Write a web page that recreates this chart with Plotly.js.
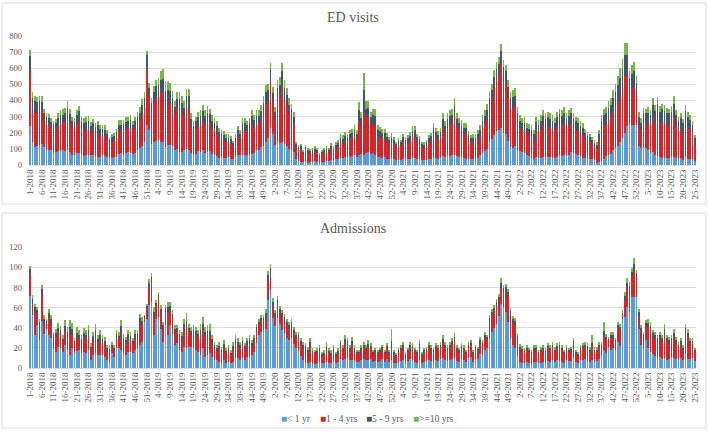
<!DOCTYPE html>
<html>
<head>
<meta charset="utf-8">
<script src="https://cdn.plot.ly/plotly-3.0.1.min.js"></script>
<style>
  html, body { margin: 0; padding: 0; background: #ffffff; }
  #chart { width: 709px; height: 433px; }
</style>
</head>
<body>
<div id="chart"></div>
<script>
// ---- Week categories (week-year), 1-2018 .. 25-2023 ----
const years = [2018, 2019, 2020, 2021, 2022, 2023];
const weeksInYear = [52, 52, 53, 52, 52, 25];

const seriesNames = ['< 1 yr', '1 - 4 yrs', '5 - 9 yrs', '>=10 yrs'];

// ---- ED visits ----
const edBlue = [
240,145,110,115,125,130,110,90,90,92,
75,80,85,85,90,85,90,80,65,60,
75,72,70,58,62,65,60,62,55,50,
52,62,55,50,42,45,48,50,70,75,
65,75,78,72,68,72,95,105,120,145,
245,220,130,140,150,155,145,140,110,125,
125,120,90,100,80,80,95,100,95,
75,60,70,85,80,90,75,80,85,70,65,
55,45,50,45,45,50,40,35,55,60,
60,65,60,60,65,70,75,90,95,110,
120,140,165,230,190,125,140,135,145,130,
120,100,90,80,40,25,20,18,22,15,
18,20,22,18,15,18,20,22,25,30,
28,35,40,45,42,50,48,52,55,60,
50,65,70,60,75,80,70,75,65,50,
50,45,48,40,35,45,38,30,32,30,
35,35,38,40,42,45,40,35,28,28,
30,35,40,45,45,40,45,55,50,60,
55,60,65,55,50,50,45,40,35,35,
40,40,45,60,75,85,100,140,160,185,
210,220,230,200,190,150,110,105,115,90,
85,80,75,60,55,45,40,50,45,45,
50,45,50,50,45,45,50,60,55,60,
55,65,80,75,70,60,55,45,45,40,
40,35,30,15,20,25,40,55,60,70,
90,105,120,145,165,200,240,255,250,245,
250,115,105,110,105,95,75,80,65,55,
50,45,45,45,45,50,50,45,35,45,
30,55,40,35,35,25];
const edRed = [
350,196,215,210,200,200,165,160,155,135,
135,140,155,170,170,180,205,180,165,160,
180,200,160,160,155,160,140,150,135,145,
130,120,125,110,85,100,100,120,135,135,
145,145,150,160,140,155,160,170,195,210,
345,205,200,250,270,265,305,310,270,265,
260,230,210,245,260,240,205,255,255,
160,135,150,155,170,185,175,185,175,155,150,
140,120,110,105,95,90,90,75,85,115,
100,150,150,140,150,180,155,160,160,170,
205,240,230,280,195,155,270,280,345,270,
245,215,195,170,65,65,70,50,68,60,
53,53,58,55,38,50,55,59,50,68,
53,67,70,95,90,98,95,103,110,120,
105,215,170,250,215,215,175,180,185,125,
120,120,115,105,92,100,90,75,90,85,
110,95,97,110,135,135,105,97,80,77,
85,100,110,145,125,115,125,180,150,175,
195,195,240,180,165,155,145,150,115,100,
98,100,110,120,155,170,185,215,240,290,
310,330,390,325,315,265,240,250,250,175,
140,135,140,130,130,135,110,160,155,175,
195,180,185,180,175,165,185,190,190,195,
175,180,180,160,145,150,135,140,115,105,
100,90,80,80,130,195,210,200,220,220,
240,255,270,280,310,350,315,200,225,240,
180,125,105,145,150,160,165,210,195,235,
205,220,210,205,200,205,240,195,175,180,
170,205,190,180,155,100];
const edNavy = [
86,72,70,65,70,62,50,48,45,40,
45,40,50,55,50,60,60,55,45,45,
55,60,45,45,50,50,40,48,45,50,
43,40,40,35,28,30,32,35,45,40,
45,45,42,48,40,45,45,50,55,60,
90,50,55,65,70,75,80,85,80,75,
75,65,60,65,70,65,55,70,75,
50,45,50,55,55,60,55,60,55,50,45,
45,40,35,35,30,30,30,25,30,40,
35,45,50,45,45,55,50,55,50,55,
60,70,70,85,60,50,70,80,90,75,
70,60,60,50,25,20,25,15,20,18,
17,18,20,18,12,15,17,20,18,22,
20,25,25,30,30,32,30,35,35,40,
35,60,50,155,60,60,50,55,55,40,
38,35,35,30,28,30,27,25,25,25,
30,28,30,30,35,35,30,28,22,20,
25,30,30,40,35,30,35,50,40,50,
55,55,65,50,45,45,40,40,35,30,
30,30,35,40,45,50,55,60,65,70,
75,75,85,80,75,70,65,65,65,55,
50,45,45,40,40,40,40,55,50,55,
60,60,60,55,55,50,60,65,60,65,
55,60,60,55,55,50,50,45,40,35,
35,30,25,30,40,55,60,65,75,80,
85,95,105,115,120,135,130,80,90,100,
80,60,50,65,65,70,70,85,75,90,
75,80,80,75,75,75,90,70,65,65,
60,75,70,65,55,40];
const edGreen = [
37,42,30,30,35,33,25,22,25,23,
20,25,30,30,35,30,45,30,25,25,
30,33,25,27,28,30,25,25,25,25,
25,23,25,20,15,20,20,20,30,30,
25,30,25,30,27,28,30,35,40,40,
30,35,30,35,40,45,50,60,60,55,
50,45,40,40,45,45,40,45,45,
35,30,30,35,35,40,35,40,35,35,30,
30,25,25,25,20,20,20,15,20,25,
25,30,30,25,30,35,30,35,35,35,
40,45,40,35,40,30,45,50,55,50,
45,40,35,30,15,15,15,12,15,12,
12,14,15,14,10,12,13,14,12,15,
14,18,20,25,23,25,22,25,25,30,
25,50,40,105,50,45,35,40,40,30,
27,25,27,25,20,25,20,15,18,15,
20,17,20,25,28,25,20,20,15,15,
15,20,20,30,25,25,25,35,30,35,
35,40,45,35,30,30,30,30,25,20,
22,25,25,30,35,35,40,40,40,45,
45,45,45,45,40,40,40,45,45,40,
35,30,35,30,30,30,25,35,30,35,
35,35,35,35,35,30,35,35,35,40,
35,35,35,30,30,30,30,30,25,25,
20,20,20,20,25,35,40,40,45,45,
50,50,55,60,65,70,70,45,55,55,
40,30,30,35,30,35,30,40,35,40,
35,35,35,30,30,35,45,30,25,30,
25,35,30,30,25,20];

// ---- Admissions ----
const admBlue = [
72,53,33,43,28,47,34,39,33,30,
20,16,21,20,16,23,18,13,20,15,
17,18,15,16,15,18,8,13,15,13,
13,13,11,8,6,15,11,20,20,18,
15,13,16,16,15,18,20,23,26,46,
49,63,66,33,49,51,39,26,43,33,
43,34,23,25,18,16,21,20,21,21,
21,18,16,13,20,11,13,15,11,8,
8,6,5,8,5,6,5,6,11,10,
8,10,8,11,11,13,16,25,33,36,
38,39,68,78,50,42,50,44,38,35,
30,28,30,24,20,18,12,8,6,5,
6,4,4,5,6,5,5,6,5,5,
7,5,6,9,8,9,10,8,8,7,
6,6,8,9,8,8,9,6,7,6,
7,9,6,9,6,8,5,5,6,7,
8,5,7,9,8,6,5,8,5,6,
7,8,7,6,8,7,9,10,8,7,
8,9,10,7,6,9,8,6,10,11,
6,9,9,14,13,18,20,30,36,40,
44,52,64,61,56,46,30,23,20,12,
6,5,5,6,5,4,6,6,5,5,
6,5,7,6,8,6,8,7,6,5,
8,7,7,10,6,5,8,8,9,7,
6,8,6,7,9,13,18,15,21,18,
20,18,26,22,49,51,61,56,71,71,
71,39,23,20,28,20,16,14,12,10,
11,9,10,8,9,11,10,9,8,10,
8,15,9,9,10,7];
const admRed = [
20,11,22,10,14,27,11,5,17,15,
10,15,15,14,10,14,13,21,14,9,
13,11,10,14,13,14,10,14,15,12,
15,12,12,8,10,5,6,9,8,18,
11,11,13,12,9,11,10,22,17,4,
11,18,18,18,13,18,16,13,13,22,
14,16,12,11,12,13,18,22,15,12,
14,15,14,20,18,20,18,17,14,11,
9,12,10,12,9,10,8,12,14,12,
11,13,10,12,14,9,10,12,10,11,
9,12,18,11,12,10,14,12,13,12,
12,12,13,11,10,12,12,12,13,10,
16,11,10,10,11,7,8,13,10,8,
11,7,9,13,10,16,14,10,15,10,
8,8,10,11,10,13,11,8,9,8,
9,10,8,11,8,14,9,7,10,11,
13,8,9,12,12,10,9,14,7,10,
10,13,11,10,12,11,12,16,13,11,
13,15,17,11,10,11,10,8,11,12,
8,10,8,12,10,13,9,17,17,17,
18,15,16,15,20,25,22,22,23,17,
13,12,10,12,11,10,12,12,9,11,
12,10,13,12,13,10,12,14,12,9,
10,9,10,15,8,7,10,12,12,12,
10,14,10,9,12,8,14,14,6,12,
10,8,14,16,4,17,20,22,20,26,
19,13,14,10,13,21,22,17,17,16,
18,17,23,18,16,16,20,15,12,14,
10,20,22,15,14,9];
const admNavy = [
6,5,6,5,4,5,4,3,5,4,
3,4,4,4,3,5,5,7,5,3,
5,4,4,5,5,6,3,5,8,4,
5,4,4,4,3,3,3,5,4,6,
4,4,5,4,3,5,4,5,4,2,
2,4,6,5,3,4,4,4,4,6,
5,4,4,4,4,3,5,5,4,4,
4,4,4,5,6,5,6,5,4,4,
3,4,3,4,3,4,2,4,4,4,
4,4,4,4,4,3,4,4,3,3,
3,4,6,10,4,3,4,3,4,4,
4,3,3,3,3,3,3,3,3,3,
4,2,2,2,3,2,2,3,2,2,
2,2,2,3,2,4,3,2,4,3,
2,2,2,3,2,3,2,2,2,2,
2,2,2,2,2,5,2,1,2,2,
2,1,2,2,2,2,2,2,2,2,
2,2,2,2,2,2,2,3,2,2,
2,3,4,2,2,2,2,2,2,2,
2,2,2,2,2,2,2,3,3,3,
4,4,5,4,5,5,5,4,4,3,
2,2,2,2,2,2,2,2,2,2,
2,2,2,2,2,2,2,2,2,2,
2,2,2,2,2,2,2,2,2,3,
2,3,2,2,2,2,5,2,2,3,
3,2,3,3,2,4,4,4,4,6,
4,4,3,3,4,4,4,4,4,4,
4,4,6,4,3,3,5,4,3,3,
2,5,4,3,3,2];
const admGreen = [
3,4,3,3,3,4,4,2,4,4,
3,4,5,4,4,6,5,7,6,3,
6,5,4,5,5,5,4,4,6,4,
5,4,4,3,4,3,3,4,4,6,
4,3,4,4,3,4,4,4,4,1,
2,3,4,5,3,3,4,3,3,5,
4,4,4,3,4,4,5,8,4,4,
4,4,4,6,7,5,6,7,4,3,
3,4,3,4,3,3,3,4,4,4,
3,4,3,3,4,3,3,3,3,3,
3,4,4,4,4,3,4,3,3,3,
3,3,3,3,3,3,3,3,3,3,
4,3,2,3,3,2,3,4,3,3,
3,2,3,3,3,4,3,3,4,3,
2,2,3,3,3,4,3,2,2,2,
2,2,2,3,2,12,2,2,2,3,
3,2,2,3,3,2,2,4,2,2,
2,3,3,2,3,3,3,4,3,3,
3,3,4,3,2,3,3,2,3,3,
2,2,2,3,3,3,2,3,3,3,
3,3,4,3,3,3,3,3,3,3,
3,3,3,3,2,2,3,3,2,3,
3,3,3,3,3,3,3,3,3,2,
3,2,2,3,2,2,3,3,3,3,
3,8,3,3,3,3,9,3,2,3,
3,2,3,3,3,4,4,4,4,6,
3,3,3,3,3,4,4,3,3,3,
3,3,5,3,3,3,4,3,3,3,
3,4,4,3,3,2];

// ---- build categories ----
const weeks = [];
years.forEach((y, k) => { for (let w = 1; w <= weeksInYear[k]; w++) weeks.push(w + '-' + y); });
const tickWeeks = weeks.filter((_, i) => i % 5 === 0);

const colors = ['#5B9BD5', '#D3262B', '#44546A', '#76B54A'];
const FONT = 'Liberation Serif, Times New Roman, serif';
const GREY = '#595959';

const edSeries = [edBlue, edRed, edNavy, edGreen];
const admSeries = [admBlue, admRed, admNavy, admGreen];

const traces = [];
edSeries.forEach((vals, k) => traces.push({
  type: 'bar', x: weeks, y: vals, name: seriesNames[k], xaxis: 'x', yaxis: 'y',
  marker: { color: colors[k] }, showlegend: false, hoverinfo: 'skip'
}));
admSeries.forEach((vals, k) => traces.push({
  type: 'bar', x: weeks, y: vals, name: seriesNames[k], xaxis: 'x2', yaxis: 'y2',
  marker: { color: colors[k] }, showlegend: false, hoverinfo: 'skip'
}));

const W = 709, H = 433;
const px = v => v / W;
const py = v => 1 - v / H;

const xCommon = {
  type: 'category', domain: [px(29), px(696)],
  tickmode: 'array', tickvals: tickWeeks, ticktext: tickWeeks,
  tickangle: -90, tickfont: { family: FONT, size: 9, color: GREY },
  showline: true, linecolor: '#d9d9d9', linewidth: 1, ticks: '',
  showgrid: false, zeroline: false, fixedrange: true
};
const yCommon = {
  tickfont: { family: FONT, size: 8.5, color: GREY },
  gridcolor: '#d9d9d9', gridwidth: 1, showline: false, zeroline: false,
  ticks: '', ticklabelstandoff: 6, fixedrange: true
};

// legend drawn as text items (small coloured squares + labels)
const legendX = [279, 318, 364, 411];
const legendAnn = seriesNames.map((n, k) => ({
  xref: 'paper', yref: 'paper', x: px(legendX[k]), y: py(418),
  xanchor: 'left', yanchor: 'middle', showarrow: false,
  text: '<span style="color:' + colors[k] + ';font-size:10px">\u25A0</span>' +
        n.replace('<', '&lt;').replace('>', '&gt;'),
  font: { family: FONT, size: 9.5, color: GREY }
}));

const layout = {
  width: W, height: H,
  margin: { l: 0, r: 0, t: 0, b: 0 },
  paper_bgcolor: '#ffffff', plot_bgcolor: '#ffffff',
  barmode: 'stack', bargap: 0.28,
  showlegend: false,
  xaxis: Object.assign({}, xCommon, { anchor: 'y' }),
  yaxis: Object.assign({}, yCommon, { domain: [py(165), py(36)], range: [0, 800], dtick: 100, anchor: 'x' }),
  xaxis2: Object.assign({}, xCommon, { anchor: 'y2' }),
  yaxis2: Object.assign({}, yCommon, { domain: [py(368), py(247.3)], range: [0, 120], dtick: 20, anchor: 'x2' }),
  shapes: [
    { type: 'rect', xref: 'paper', yref: 'paper', x0: px(2), x1: px(706), y0: py(204), y1: py(3),
      line: { color: '#d9d9d9', width: 1 }, fillcolor: 'rgba(0,0,0,0)' },
    { type: 'rect', xref: 'paper', yref: 'paper', x0: px(2), x1: px(706), y0: py(428), y1: py(213),
      line: { color: '#d9d9d9', width: 1 }, fillcolor: 'rgba(0,0,0,0)' }
  ],
  annotations: [
    { xref: 'paper', yref: 'paper', x: px(353), y: py(18), xanchor: 'center', yanchor: 'middle',
      showarrow: false, text: 'ED visits', font: { family: FONT, size: 14, color: GREY } },
    { xref: 'paper', yref: 'paper', x: px(353), y: py(228), xanchor: 'center', yanchor: 'middle',
      showarrow: false, text: 'Admissions', font: { family: FONT, size: 14, color: GREY } }
  ].concat(legendAnn)
};

Plotly.newPlot('chart', traces, layout, { displayModeBar: false, staticPlot: true });
</script>
</body>
</html>
